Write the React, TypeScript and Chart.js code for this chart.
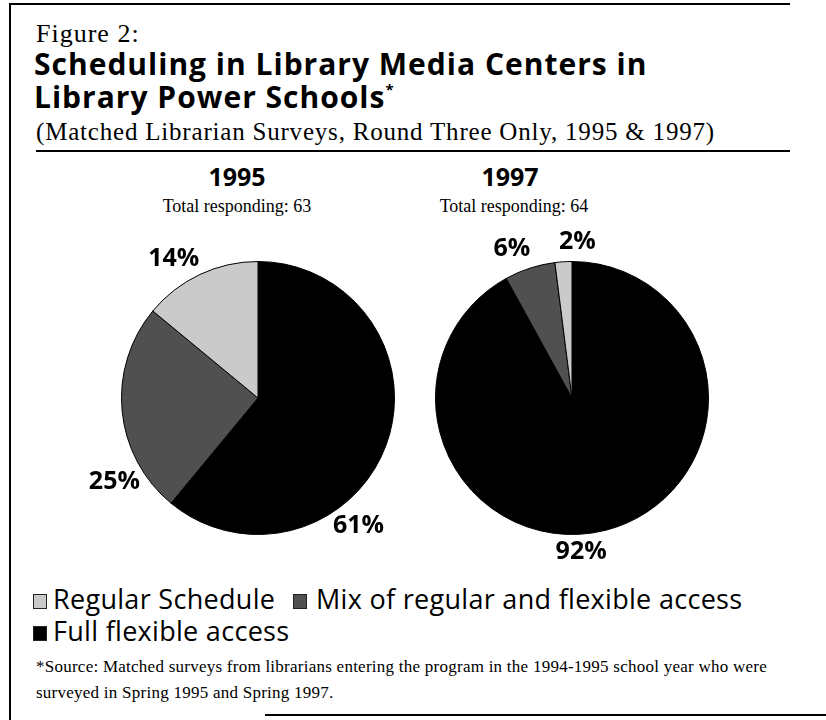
import React, { useEffect, useRef } from 'react';
import { Chart, registerables } from 'chart.js';

Chart.register(...registerables);

// ---- data ----
const categories = ['Full flexible access', 'Mix of regular and flexible access', 'Regular Schedule'];
const years = ['1995', '1997'];
const totalsResponding = [63, 64];
const values1995 = [61, 25, 14];
const values1997 = [92, 6, 2];
const legendOrder = [2, 1, 0];

// ---- styles ----
const sliceColors = ['#000000', '#505050', '#cacaca'];
const SERIF = '"Liberation Serif", "Times New Roman", serif';
const SANS = '"Open Sans", "Noto Sans", sans-serif';
// label placement: angular shift (deg) from slice middle, gap beyond the rim (px)
const labelShift = [
  [32, -25, -6],
  [11, -4, 5.6],
];
const labelGap = [
  [26, 30, 26],
  [18, 24, 20],
];

const pctLabels = {
  id: 'pctLabels',
  afterDatasetsDraw(chart: any, _args: any, opts: any) {
    const ctx = chart.ctx;
    const meta = chart.getDatasetMeta(0);
    const data = chart.data.datasets[0].data as number[];
    meta.data.forEach((arc: any, i: number) => {
      const p = arc.getProps(['x', 'y', 'startAngle', 'endAngle', 'outerRadius'], true);
      const mid = (p.startAngle + p.endAngle) / 2 + (opts.shift[i] * Math.PI) / 180;
      const r = p.outerRadius + opts.gap[i];
      ctx.save();
      ctx.font = `bold 25px ${SANS}`;
      ctx.fillStyle = '#000';
      ctx.textAlign = 'center';
      ctx.textBaseline = 'middle';
      ctx.fillText(`${data[i]}%`, p.x + r * Math.cos(mid), p.y + r * Math.sin(mid));
      ctx.restore();
    });
  },
};

function Pie({ values, idx, left, top, width, height, padding }: any) {
  const ref = useRef<HTMLCanvasElement | null>(null);
  useEffect(() => {
    if (!ref.current) return;
    const chart = new Chart(ref.current, {
      type: 'pie',
      data: {
        labels: categories,
        datasets: [
          {
            data: values,
            backgroundColor: sliceColors,
            borderColor: '#000',
            borderWidth: 1,
          },
        ],
      },
      options: {
        responsive: false,
        animation: false,
        layout: { padding },
        plugins: {
          legend: { display: false },
          tooltip: { enabled: false },
          title: { display: false },
          pctLabels: { shift: labelShift[idx], gap: labelGap[idx] },
        } as any,
      },
      plugins: [pctLabels],
    });
    return () => chart.destroy();
  }, []);
  return (
    <canvas
      ref={ref}
      width={width}
      height={height}
      style={{ position: 'absolute', left, top, width, height }}
    />
  );
}

function T({ x, base, size, family, weight = 400, center = false, children, spacing = 0 }: any) {
  const k = family === SERIF ? 0.837 : 0.888;
  return (
    <div
      style={{
        position: 'absolute',
        left: x,
        top: base - k * size,
        fontFamily: family,
        fontSize: size,
        fontWeight: weight,
        lineHeight: `${size}px`,
        whiteSpace: 'nowrap',
        letterSpacing: spacing,
        transform: center ? 'translateX(-50%)' : undefined,
        color: '#000',
      }}
    >
      {children}
    </div>
  );
}

function Swatch({ x, y, color }: any) {
  return (
    <div
      style={{
        position: 'absolute',
        left: x,
        top: y,
        width: 12,
        height: 13,
        background: color,
        border: '1px solid #222',
      }}
    />
  );
}

export default function App() {
  const legendPos = [
    { sx: 33, sy: 594, tx: 53, base: 609 },
    { sx: 293, sy: 594, tx: 316, base: 609 },
    { sx: 33, sy: 626, tx: 53, base: 641 },
  ];
  return (
    <div
      style={{
        position: 'absolute',
        left: 0,
        top: 0,
        width: 826,
        height: 720,
        background: '#fff',
        overflow: 'hidden',
      }}
    >
      {/* frame */}
      <div style={{ position: 'absolute', left: 9, top: 3, width: 781, height: 2, background: '#000' }} />
      <div style={{ position: 'absolute', left: 9, top: 3, width: 1.5, height: 717, background: '#000' }} />
      <div style={{ position: 'absolute', left: 265, top: 714, width: 561, height: 2, background: '#000' }} />

      <T x={36} base={43} size={26} family={SERIF} spacing={1}>Figure 2:</T>
      <T x={34} base={76} size={30} family={SANS} weight={700} spacing={1}>Scheduling in Library Media Centers in</T>
      <T x={34} base={109} size={30} family={SANS} weight={700} spacing={1}>
        Library Power Schools<sup style={{ fontSize: 15, verticalAlign: 'top', lineHeight: '15px' }}>*</sup>
      </T>
      <T x={36} base={140} size={25} family={SERIF} spacing={0.8}>(Matched Librarian Surveys, Round Three Only, 1995 &amp; 1997)</T>
      <div style={{ position: 'absolute', left: 36, top: 150, width: 754, height: 2, background: '#000' }} />

      <T x={237} base={186} size={25} family={SANS} weight={700} center>{years[0]}</T>
      <T x={237} base={212} size={18} family={SERIF} center>Total responding: {totalsResponding[0]}</T>
      <T x={510} base={186} size={25} family={SANS} weight={700} center>{years[1]}</T>
      <T x={514} base={212} size={18} family={SERIF} center>Total responding: {totalsResponding[1]}</T>

      <Pie values={values1995} idx={0} left={60} top={225} width={390} height={340}
        padding={{ left: 61, right: 55, top: 36, bottom: 30 }} />
      <Pie values={values1997} idx={1} left={390} top={225} width={380} height={340}
        padding={{ left: 45, right: 61, top: 36, bottom: 30 }} />

      {legendOrder.map((ci, k) => (
        <React.Fragment key={ci}>
          <Swatch x={legendPos[k].sx} y={legendPos[k].sy} color={sliceColors[ci]} />
          <T x={legendPos[k].tx} base={legendPos[k].base} size={27} family={SANS} spacing={0.3}>{categories[ci]}</T>
        </React.Fragment>
      ))}

      <T x={36} base={672} size={17} family={SERIF} spacing={0.25}>
        *Source: Matched surveys from librarians entering the program in the 1994-1995 school year who were
      </T>
      <T x={36} base={698} size={17} family={SERIF} spacing={0.25}>surveyed in Spring 1995 and Spring 1997.</T>
    </div>
  );
}
